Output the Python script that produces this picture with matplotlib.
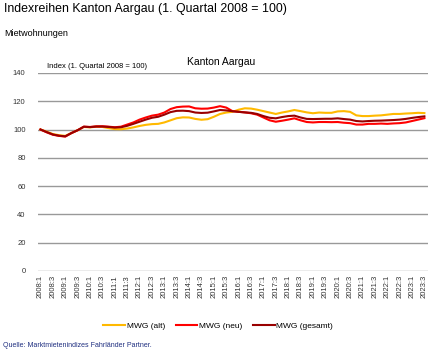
import matplotlib
matplotlib.use('Agg')
import matplotlib.pyplot as plt
import numpy as np

plt.rcParams['font.family'] = ['Liberation Sans', 'DejaVu Sans']

# quarters 2008:1 .. 2023:3
quarters = ['%d:%d' % (y, q) for y in range(2008, 2024) for q in range(1, 5)][:63]

mwg_alt = [100, 98.5, 96.8, 96, 95.5, 97.5, 99.5, 101.8, 101.5, 102, 101.8, 101, 100.3, 100.2,
           100.7, 101.5, 102.5, 103.3, 103.8, 104, 105, 106.5, 108, 108.6, 108.5, 107.5, 106.9,
           107.3, 109, 111, 112, 112.5, 114, 115, 114.8, 114, 113, 112, 111, 112, 112.8, 113.8,
           113, 112.1, 111.5, 112, 111.8, 111.8, 112.8, 113, 112.5, 110, 109.5, 109.5, 109.8,
           110, 110.5, 111, 111, 111.3, 111.5, 111.8, 111.6]
mwg_neu = [100, 98, 96.3, 95.5, 95, 97.5, 99.5, 102, 101.8, 102.2, 102.3, 102, 101.6, 102,
           103.5, 105, 107, 108.5, 109.8, 110.5, 112, 114.5, 115.8, 116.2, 116.3, 115, 114.7,
           114.8, 115.5, 116.5, 115.5, 113, 112.5, 112.1, 111.5, 110.5, 108.5, 106.5, 105.5,
           106.2, 107, 107.9, 106.5, 105.3, 105, 105.3, 105.3, 105.2, 105.3, 104.8, 104.5,
           103.5, 103.5, 104, 104, 104.2, 104, 104.3, 104.5, 105, 106, 107, 108]
mwg_ges = [100, 98.2, 96.5, 95.6, 95.2, 97.5, 99.5, 102, 101.7, 102.1, 102.1, 101.8, 101.4,
           101.6, 102.6, 104, 105.5, 107, 108.3, 109, 110.5, 112.3, 113.2, 113.3, 113, 112,
           111.7, 111.9, 112.8, 113.8, 113.5, 112.9, 112.5, 112.1, 111.8, 111, 109.5, 108.3,
           107.9, 108.8, 109.5, 109.8, 108.5, 107.5, 107.4, 107.5, 107.6, 107.6, 107.9, 107.4,
           107, 106, 105.7, 106, 106.2, 106.3, 106.5, 106.7, 107, 107.5, 108.2, 108.8, 109.3]

fig = plt.figure(figsize=(4.32, 3.54), dpi=100)
ax = fig.add_axes([0.088, 0.2345, 0.903, 0.5595])

x = np.arange(len(quarters))
ax.plot(x, mwg_alt, color='#FFB900', lw=1.5, label='MWG (alt)')
ax.plot(x, mwg_neu, color='#FF0000', lw=1.5, label='MWG (neu)')
ax.plot(x, mwg_ges, color='#990000', lw=1.5, label='MWG (gesamt)')

ax.set_ylim(0, 140)
ax.set_yticks(np.arange(0, 141, 20))
ax.set_xlim(-0.4, 62.6)
ax.set_xticks(x[::2])
ax.set_xticklabels(quarters[::2], rotation=90, fontsize=5.5, color='#333333')
ax.tick_params(axis='y', labelsize=5.5, labelcolor='#333333', length=0, pad=9)
ax.tick_params(axis='x', length=0, pad=3)
ax.grid(axis='y', color='#999999', lw=1)
ax.set_axisbelow(True)
for s in ax.spines.values():
    s.set_visible(False)

fig.text(0.009, 0.975, 'Indexreihen Kanton Aargau (1. Quartal 2008 = 100)', fontsize=8.9,
         va='center', ha='left')
fig.text(0.009, 0.905, 'Mietwohnungen', fontsize=6.5, va='center', ha='left')
fig.text(0.109, 0.813, 'Index (1. Quartal 2008 = 100)', fontsize=5.5, va='center', ha='left')
fig.text(0.433, 0.825, 'Kanton Aargau', fontsize=7.5, va='center', ha='left')
fig.text(0.007, 0.023, 'Quelle: Marktmietenindizes Fahrländer Partner.', fontsize=5,
         color='#1F2F80', va='center', ha='left')

fig.legend(loc='center', bbox_to_anchor=(0.505, 0.079), ncol=3, frameon=False,
           fontsize=6, handlelength=2.6, handletextpad=0.2, columnspacing=1.3)

fig.savefig('out.png', dpi=100)
